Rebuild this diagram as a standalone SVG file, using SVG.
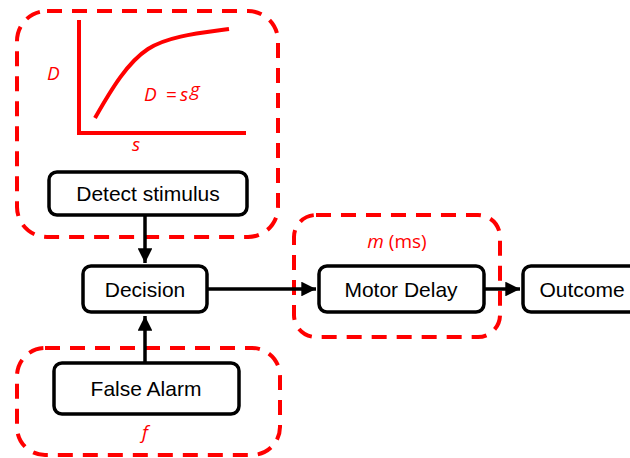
<svg xmlns="http://www.w3.org/2000/svg" width="630" height="458" viewBox="0 0 630 458">
<style>
.dash{fill:none;stroke:#ff0000;stroke-width:4;stroke-dasharray:15 10}
.box{fill:#fff;stroke:#000;stroke-width:3.5}
.lbl{font-family:"Liberation Sans",Arial,sans-serif;font-size:21px;fill:#000;text-anchor:middle}
.red{font-family:"Open Sans","Liberation Sans",sans-serif;font-size:19px;fill:#ff0000}
.conn{stroke:#000;stroke-width:3.5;fill:none}
.axis{stroke:#ff0000;stroke-width:4;fill:none}
</style>
<defs>
<marker id="ah" viewBox="0 0 10 10" refX="10" refY="5" markerWidth="4.2" markerHeight="4.2" orient="auto" markerUnits="strokeWidth">
<path d="M0,0 L10,5 L0,10 Z" fill="#000"/>
</marker>
</defs>
<g id="group-detect">
<rect class="dash" x="17" y="11" width="261" height="226" rx="30"/>
<path class="axis" d="M79,20 L79,133 L246,133"/>
<path class="axis" d="M95,118 C112,88 128,62 148,49 C168,36 200,33 229,29"/>
<text class="red" x="47" y="80" font-style="italic">D</text>
<text class="red" x="144" y="101" font-style="italic">D</text>
<text class="red" x="166" y="101">=</text>
<text class="red" x="180" y="101" font-style="italic">s</text>
<text class="red" x="190" y="96" font-size="14" font-style="italic">g</text>
<text class="red" x="132" y="151" font-style="italic">s</text>
</g>
<g id="detect">
<rect class="box" x="49" y="172" width="198" height="43" rx="8"/>
<text class="lbl" x="148" y="201">Detect stimulus</text>
</g>
<g id="decision">
<rect class="box" x="83" y="266" width="124" height="46" rx="8"/>
<text class="lbl" x="145" y="297">Decision</text>
</g>
<g id="group-false">
<rect class="dash" x="17" y="348" width="263" height="107" rx="28"/>
<text class="red" x="142" y="439" font-style="italic">f</text>
</g>
<g id="false-alarm">
<rect class="box" x="54" y="363" width="185" height="51" rx="8"/>
<text class="lbl" x="146" y="396">False Alarm</text>
</g>
<g id="group-motor">
<rect class="dash" x="294" y="215" width="206" height="122" rx="22"/>
<text class="red" x="397" y="248" text-anchor="middle"><tspan font-style="italic">m</tspan> (ms)</text>
</g>
<g id="motor">
<rect class="box" x="319" y="266" width="165" height="46" rx="8"/>
<text class="lbl" x="401" y="297">Motor Delay</text>
</g>
<g id="outcome">
<rect class="box" x="523" y="266" width="120" height="46" rx="8"/>
<text class="lbl" x="582" y="297">Outcome</text>
</g>
<g id="connectors">
<line class="conn" x1="145" y1="215" x2="145" y2="263" marker-end="url(#ah)"/>
<line class="conn" x1="145" y1="363" x2="145" y2="316" marker-end="url(#ah)"/>
<line class="conn" x1="207" y1="289" x2="316" y2="289" marker-end="url(#ah)"/>
<line class="conn" x1="484" y1="289" x2="520" y2="289" marker-end="url(#ah)"/>
</g>
</svg>
